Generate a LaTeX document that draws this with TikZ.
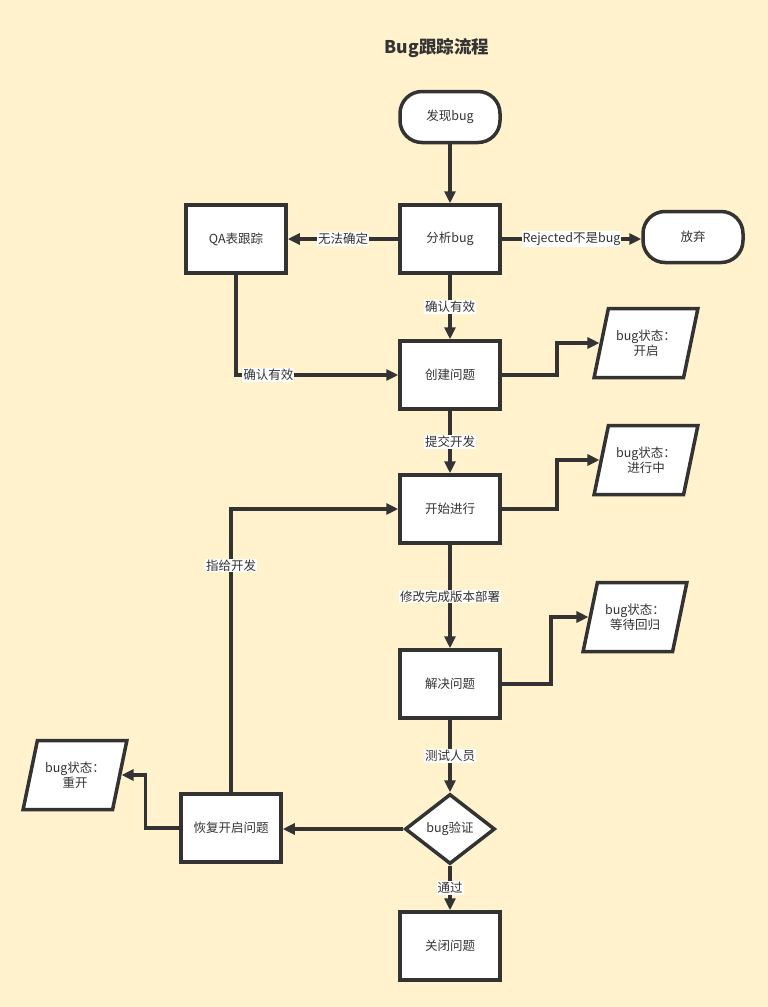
\documentclass[tikz,border=0pt]{standalone}
\usepackage{fontspec}
\setmainfont{Noto Sans CJK SC}
\usetikzlibrary{shapes.geometric,arrows.meta}
\definecolor{bg}{HTML}{FFF2CC}
\definecolor{ln}{HTML}{333333}
\begin{document}
\begin{tikzpicture}[x=1pt,y=-1pt,
 every node/.style={font=\fontsize{12.5}{15.5}\selectfont, text=ln},
 box/.style={draw=ln, line width=3.5pt, fill=white, minimum width=100pt, minimum height=68pt, inner sep=2pt},
 term/.style={box, rounded corners=22pt, minimum height=51pt},
 para/.style={draw=ln, line width=3.5pt, fill=white, trapezium, trapezium left angle=68, trapezium right angle=112, trapezium stretches=true, minimum width=104pt, minimum height=69pt, align=center, inner sep=1pt},
 dia/.style={draw=ln, line width=3.5pt, fill=white, diamond, minimum width=90pt, minimum height=70pt, inner sep=0pt},
 conn/.style={draw=ln, line width=3.5pt, -{Triangle[length=12pt,width=11pt]}},
 lab/.style={fill=white, inner sep=1pt}
]
\fill[bg] (0,0) rectangle (768,1007);
\useasboundingbox (0,0) rectangle (768,1007);

\node[font=\bfseries\fontsize{17.5}{21}\selectfont] (title) at (437,48) {Bug跟踪流程};

\node[term] (find) at (450,117) {发现bug};
\node[box] (analyze) at (450,239) {分析bug};
\node[box] (qa) at (236,239) {QA表跟踪};
\node[term] (giveup) at (693,237) {放弃};
\node[box] (create) at (450,375) {创建问题};
\node[para] (open) at (646,343) {bug状态：\\开启};
\node[box] (start) at (450,509) {开始进行};
\node[para] (prog) at (646,460) {bug状态：\\进行中};
\node[box] (solve) at (450,684) {解决问题};
\node[para] (wait) at (635,617) {bug状态：\\等待回归};
\node[dia] (verify) at (450,829) {bug验证};
\node[box] (reopen) at (231,828) {恢复开启问题};
\node[para] (reopenst) at (75,775) {bug状态：\\重开};
\node[box] (close) at (450,946) {关闭问题};

\draw[conn] (find) -- (analyze);
\draw[conn] (analyze) -- node[lab]{无法确定} (qa);
\draw[conn] (analyze.east) -- node[lab]{Rejected不是bug} (analyze.east -| giveup.west);
\draw[conn] (analyze) -- node[lab]{确认有效} (create);
\draw[conn] (qa) |- node[lab,pos=0.6]{确认有效} (create);
\draw[conn] (create.east) -- ++(55,0) |- (open.west);
\draw[conn] (create) -- node[lab]{提交开发} (start);
\draw[conn] (start.east) -- ++(55,0) |- (prog.west);
\draw[conn] (start) -- node[lab]{修改完成版本部署} (solve);
\draw[conn] (solve.east) -- ++(49,0) |- (wait.west);
\draw[conn] (solve) -- node[lab]{测试人员} (verify);
\draw[conn] (verify.west) -- (verify.west -| reopen.east);
\draw[conn] (verify) -- node[lab]{通过} (close);
\draw[conn] (reopen.west) -- ++(-34,0) |- (reopenst.east);
\draw[conn] (reopen) |- node[lab,pos=0.4]{指给开发} (start);
\end{tikzpicture}
\end{document}
